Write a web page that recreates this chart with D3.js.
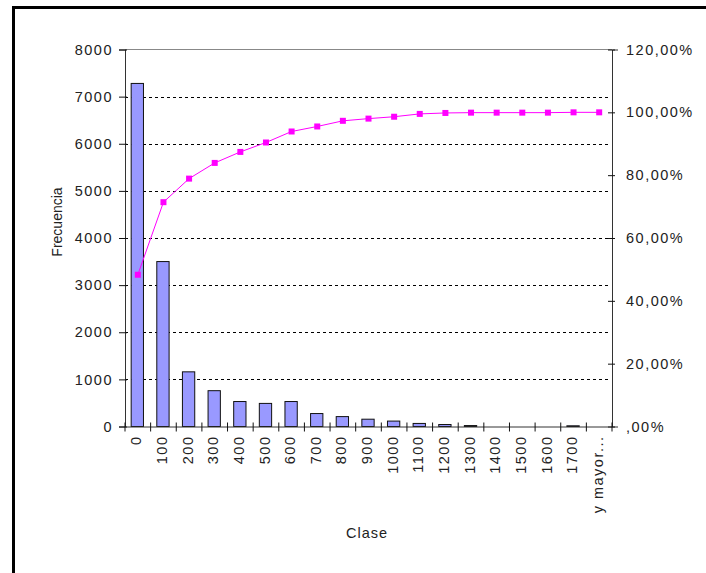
<!DOCTYPE html>
<html>
<head>
<meta charset="utf-8">
<script src="https://cdn.jsdelivr.net/npm/d3@7"></script>
<style>
  body { margin: 0; background: #fff; }
  text { font-family: "Liberation Sans", Arial, sans-serif; fill: #222; }
</style>
</head>
<body>
<div id="chart"></div>
<script>
// values
var clases = ["0", "100", "200", "300", "400", "500", "600", "700", "800", "900",
	"1000", "1100", "1200", "1300", "1400", "1500", "1600", "1700", "y mayor..."];
var frecuencia = [7280, 3500, 1160, 760, 530, 490, 530, 275, 210, 155,
	115, 65, 42, 20, 0, 0, 0, 15, 0];
var acumulado = [48.3, 71.4, 78.9, 83.9, 87.4, 90.4, 93.9, 95.5, 97.3, 98.0,
	98.6, 99.5, 99.8, 99.9, 99.9, 99.9, 99.9, 100, 100];
var leftTicks = [0, 1000, 2000, 3000, 4000, 5000, 6000, 7000, 8000];
var rightTicks = [0, 20, 40, 60, 80, 100, 120];

var w = 706;
var h = 573;
var plotL = 125, plotR = 612, plotT = 49.5, plotB = 426.5;

var svg = d3.select("#chart").append("svg")
	.attr("width", w)
	.attr("height", h);

// outer frame
svg.append("rect")
	.attr("x", 13.5).attr("y", 7.5)
	.attr("width", 720).attr("height", 600)
	.style("fill", "none")
	.style("stroke", "#000")
	.style("stroke-width", 3);

var x = d3.scaleBand().domain(clases).range([plotL, plotR]).padding(0);
var y = d3.scaleLinear().domain([0, 8000]).range([plotB, plotT]);
var y2 = d3.scaleLinear().domain([0, 120]).range([plotB, plotT]);

// gridlines
svg.selectAll("line.grid")
	.data(leftTicks.filter(function(d) { return d > 0 && d < 8000; }))
	.enter()
	.append("line")
	.attr("class", "grid")
	.attr("x1", plotL).attr("x2", plotR - 3)
	.attr("y1", function(d) { return Math.round(y(d)) + 0.5; })
	.attr("y2", function(d) { return Math.round(y(d)) + 0.5; })
	.style("stroke", "#000")
	.style("stroke-dasharray", "3,3");

// top border of plot area
svg.append("line")
	.attr("x1", plotL).attr("x2", plotR)
	.attr("y1", plotT).attr("y2", plotT)
	.style("stroke", "#888");

// bars
var bw = x.bandwidth() * 0.48;
svg.selectAll("rect.bar")
	.data(frecuencia)
	.enter()
	.append("rect")
	.attr("class", "bar")
	.attr("x", function(d, i) { return x(clases[i]) + x.bandwidth() / 2 - bw / 2 - 0.5; })
	.attr("y", function(d) { return y(d); })
	.attr("width", bw)
	.attr("height", function(d) { return plotB - y(d); })
	.style("fill", "#9999ff")
	.style("stroke", "#111")
	.style("stroke-width", 1);

// axes
var fmtPct = function(d) {
	var s = d3.format(".2f")(d).replace(".", ",");
	if (d == 0) { s = s.replace(/^0/, ""); }
	return s + "%";
};

var gl = svg.append("g")
	.attr("transform", "translate(" + plotL + ",0)")
	.call(d3.axisLeft(y).tickValues(leftTicks).tickFormat(d3.format("d")).tickSize(6).tickPadding(6));
var gr = svg.append("g")
	.attr("transform", "translate(" + plotR + ",0)")
	.call(d3.axisRight(y2).tickValues(rightTicks).tickFormat(fmtPct).tickSize(6).tickPadding(8));
var gb = svg.append("g")
	.attr("transform", "translate(0," + plotB + ")")
	.call(d3.axisBottom(x).tickSize(0).tickPadding(0));

[gl, gr, gb].forEach(function(g) {
	g.select(".domain").style("stroke", "#333");
	g.selectAll(".tick line").style("stroke", "#111");
	g.selectAll("text")
		.style("font-size", "14.5px")
		.style("letter-spacing", "1.5px")
		.style("fill", "#222")
		.attr("font-family", null);
});
gl.selectAll(".tick line").attr("x1", 2);
gr.selectAll(".tick line").attr("x1", -4).attr("x2", 3);

// category boundary ticks on the x axis
svg.selectAll("line.xtick")
	.data(clases.concat(["end"]))
	.enter()
	.append("line")
	.attr("class", "xtick")
	.attr("x1", function(d, i) { return plotL + i * x.step(); })
	.attr("x2", function(d, i) { return plotL + i * x.step(); })
	.attr("y1", plotB - 4).attr("y2", plotB + 5)
	.style("stroke", "#111");

// rotated category labels
gb.selectAll(".tick text")
	.attr("transform", "rotate(-90)")
	.attr("x", -9)
	.attr("y", 0)
	.attr("dy", "0.25em")
	.style("text-anchor", "end");

// cumulative line
var line = d3.line()
	.x(function(d, i) { return x(clases[i]) + x.bandwidth() / 2; })
	.y(function(d) { return y2(d); });
svg.append("path")
	.datum(acumulado)
	.attr("d", line)
	.style("fill", "none")
	.style("stroke", "#ff00ff")
	.style("stroke-width", 1);
svg.selectAll("rect.mark")
	.data(acumulado)
	.enter()
	.append("rect")
	.attr("class", "mark")
	.attr("x", function(d, i) { return x(clases[i]) + x.bandwidth() / 2 - 3; })
	.attr("y", function(d) { return y2(d) - 3; })
	.attr("width", 6).attr("height", 6)
	.style("fill", "#ff00ff");

// axis titles
svg.append("text")
	.attr("transform", "translate(62,222) rotate(-90)")
	.style("text-anchor", "middle")
	.style("font-size", "14px")
	.style("letter-spacing", "0px")
	.text("Frecuencia");
svg.append("text")
	.attr("x", 367).attr("y", 538)
	.style("text-anchor", "middle")
	.style("font-size", "14.5px")
	.style("letter-spacing", "1px")
	.text("Clase");
</script>
</body>
</html>
